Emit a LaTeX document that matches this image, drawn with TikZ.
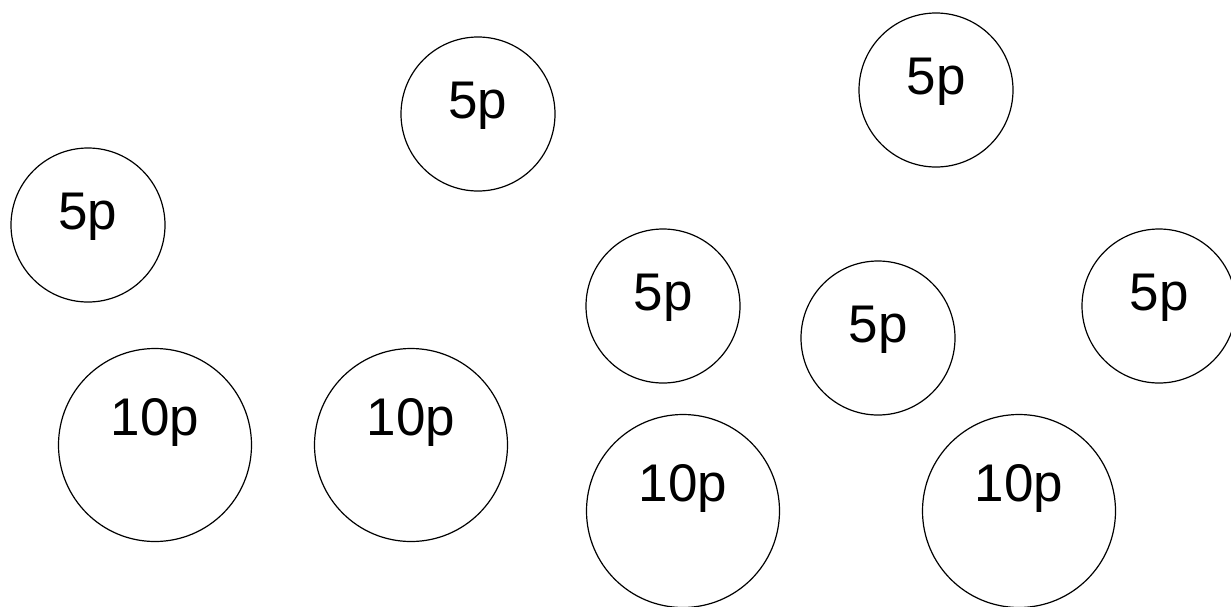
\documentclass[tikz,border=0pt]{standalone}
\usepackage{fontspec}
\setmainfont{Liberation Sans}
\usepackage{tikz}
\newcommand{\coinfont}{\fontsize{53}{60}\selectfont}

\begin{document}
\begin{tikzpicture}[x=1pt,y=-1pt,
    coin/.style={circle,draw=black,line width=1.2pt,inner sep=0pt,font=\coinfont,text height=38pt},
    fivep/.style={coin,minimum size=154pt,text depth=30pt},
    tenp/.style={coin,minimum size=193pt,text depth=58pt}]
    \useasboundingbox (0,0) rectangle (1231,606);
    % 5p coins
    \node[fivep] (fiveA) at (478,114) {5p};
    \node[fivep] (fiveB) at (936,90) {5p};
    \node[fivep] (fiveC) at (88,225) {5p};
    \node[fivep] (fiveD) at (663,306) {5p};
    \node[fivep] (fiveE) at (878,338) {5p};
    \node[fivep] (fiveF) at (1159,306) {5p};
    % 10p coins
    \node[tenp] (tenA) at (155,445) {10p};
    \node[tenp] (tenB) at (411,445) {10p};
    \node[tenp] (tenC) at (683,511) {10p};
    \node[tenp] (tenD) at (1019,511) {10p};
\end{tikzpicture}
\end{document}
